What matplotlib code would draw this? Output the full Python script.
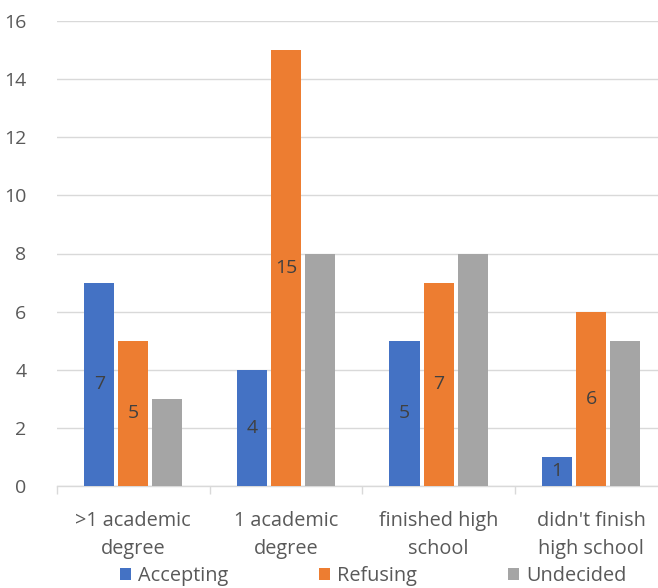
import numpy as np
import matplotlib
matplotlib.use("Agg")
import matplotlib.pyplot as plt
from matplotlib.ticker import FixedLocator, NullFormatter

plt.rcParams['font.family'] = ['Open Sans', 'DejaVu Sans']

categories = [">1 academic\ndegree", "1 academic\ndegree", "finished high\nschool", "didn't finish\nhigh school"]
accepting = [7, 4, 5, 1]
refusing = [5, 15, 7, 6]
undecided = [3, 8, 8, 5]

colors = ['#4472C4', '#ED7D31', '#A5A5A5']
text_col = '#595959'
fs = 14

fig = plt.figure(figsize=(6.58, 5.88), dpi=100)
ax = fig.add_axes([57 / 658, 1 - 486 / 588, (667.5 - 57) / 658, (486 - 21) / 588])

x = np.arange(len(categories))
w = 0.197
step = 0.223
b1 = ax.bar(x - step, accepting, w, color=colors[0], label='Accepting', zorder=3)
b2 = ax.bar(x, refusing, w, color=colors[1], label='Refusing', zorder=3)
b3 = ax.bar(x + step, undecided, w, color=colors[2], label='Undecided', zorder=3)

ax.bar_label(b1, label_type='center', fontsize=fs, color='#404040')
ax.bar_label(b2, label_type='center', fontsize=fs, color='#404040')

ax.set_xlim(-0.5, 3.5)
ax.set_ylim(0, 16)
ax.set_yticks(np.arange(0, 17, 2))
ax.yaxis.grid(True, color='#D9D9D9', linewidth=1, zorder=0)
ax.set_axisbelow(True)

for s in ['top', 'right', 'left']:
    ax.spines[s].set_visible(False)
ax.spines['bottom'].set_color('#D9D9D9')
ax.spines['bottom'].set_linewidth(1)

ax.set_xticks(x)
ax.set_xticklabels(categories, fontsize=14.3, color=text_col, linespacing=1.55)
ax.tick_params(axis='x', which='major', length=0, pad=18)
ax.xaxis.set_minor_locator(FixedLocator([-0.5, 0.5, 1.5, 2.5]))
ax.xaxis.set_minor_formatter(NullFormatter())
ax.tick_params(axis='x', which='minor', length=6, color='#D9D9D9', width=1)
ax.tick_params(axis='y', length=0, labelsize=fs, labelcolor=text_col, pad=22)

leg = fig.legend(handles=[b1, b2, b3], loc='lower center', bbox_to_anchor=(0.567, -0.027),
                 ncol=3, frameon=False, fontsize=14.3, handlelength=0.55, handleheight=0.55,
                 handletextpad=0.35, columnspacing=4.6)
for t in leg.get_texts():
    t.set_color(text_col)

fig.savefig('out.png', dpi=100)
